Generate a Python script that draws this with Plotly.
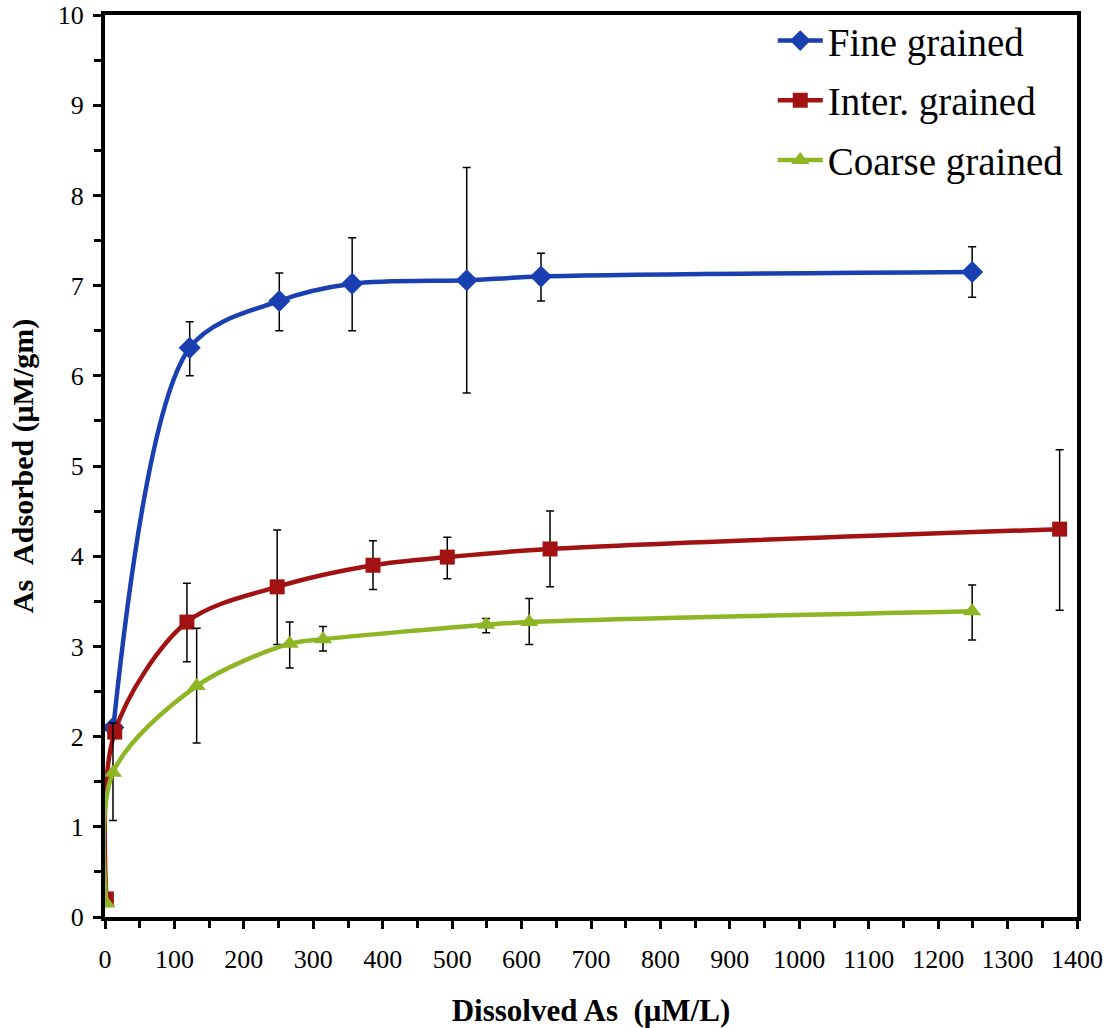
import plotly.graph_objects as go

# Fine grained
fine_x = [12, 122, 251, 356, 521, 628, 1249]
fine_y = [2.1, 6.31, 6.83, 7.02, 7.06, 7.10, 7.15]
fine_hi = [2.1, 6.60, 7.14, 7.53, 8.31, 7.36, 7.43]
fine_lo = [2.1, 6.00, 6.50, 6.50, 5.81, 6.83, 6.87]

# Inter. grained
inter_x = [2, 14, 118, 248, 386, 493, 641, 1375]
inter_y = [0.2, 2.05, 3.27, 3.66, 3.90, 3.99, 4.08, 4.30]
inter_hi = [0.2, 2.05, 3.70, 4.29, 4.17, 4.21, 4.50, 5.18]
inter_lo = [0.2, 2.05, 2.83, 3.02, 3.63, 3.75, 3.66, 3.40]

# Coarse grained
coarse_x = [2, 11.5, 132, 266, 314, 549, 611, 1249]
coarse_y = [0.15, 1.60, 2.56, 3.03, 3.08, 3.24, 3.27, 3.39]
coarse_hi = [0.15, 2.15, 3.20, 3.27, 3.22, 3.31, 3.53, 3.68]
coarse_lo = [0.15, 1.07, 1.93, 2.76, 2.95, 3.15, 3.02, 3.07]

x_ticks = list(range(0, 1401, 100))
y_ticks = list(range(0, 11))

series = [
    ("Fine grained", fine_x, fine_y, fine_hi, fine_lo, "#1a3fb0", "diamond", 17),
    ("Inter. grained", inter_x, inter_y, inter_hi, inter_lo, "#a31212", "square", 15),
    ("Coarse grained", coarse_x, coarse_y, coarse_hi, coarse_lo, "#8db524", "triangle-up", 16),
]

fig = go.Figure()
for name, xs, ys, hi, lo, col, sym, ms in series:
    plus = [max(h - y, 0) for h, y in zip(hi, ys)]
    minus = [max(y - l, 0) for l, y in zip(lo, ys)]
    fig.add_trace(go.Scatter(
        x=xs, y=ys, name=name, mode="lines+markers", legendgroup=name,
        line=dict(color=col, width=4.5, shape="spline", smoothing=0.9),
        marker=dict(symbol=sym, size=ms, color=col),
        error_y=dict(type="data", symmetric=False, array=plus, arrayminus=minus,
                     color="black", thickness=1.5, width=4),
    ))

font_serif = "Liberation Serif"
fig.update_layout(
    width=1116, height=1028,
    margin=dict(l=105, r=39, t=15, b=111, autoexpand=False),
    paper_bgcolor="white", plot_bgcolor="white",
    font=dict(family=font_serif, color="black", size=26),
    showlegend=True,
    legend=dict(x=0.687, y=1.007, xanchor="left", yanchor="top",
                font=dict(size=39, family=font_serif), bgcolor="rgba(0,0,0,0)",
                tracegroupgap=6, itemwidth=45),
    xaxis=dict(
        range=[0, 1400], tickvals=x_ticks, ticktext=[str(v) for v in x_ticks],
        showgrid=False, zeroline=False, showline=True, linecolor="black", linewidth=4,
        mirror=True, ticks="outside", ticklen=8, tickwidth=3, tickcolor="black",
        minor=dict(dtick=50, ticks="outside", ticklen=7, tickwidth=3, tickcolor="black", showgrid=False),
        tickfont=dict(size=26, family=font_serif), ticklabelstandoff=8,
        title=dict(text="<b>Dissolved As \u00a0(\u03bcM/L)</b>", font=dict(size=31, family=font_serif), standoff=27),
    ),
    yaxis=dict(
        range=[0, 10], tickvals=y_ticks, ticktext=[str(v) for v in y_ticks],
        showgrid=False, zeroline=False, showline=True, linecolor="black", linewidth=4,
        mirror=True, ticks="outside", ticklen=8, tickwidth=3, tickcolor="black",
        minor=dict(dtick=0.5, ticks="outside", ticklen=7, tickwidth=3, tickcolor="black", showgrid=False),
        tickfont=dict(size=26, family=font_serif), ticklabelstandoff=4,
        title=dict(text="<b>As \u00a0Adsorbed (\u03bcM/gm)</b>", font=dict(size=30, family=font_serif), standoff=16),
    ),
)

fig.write_html("out.html")
